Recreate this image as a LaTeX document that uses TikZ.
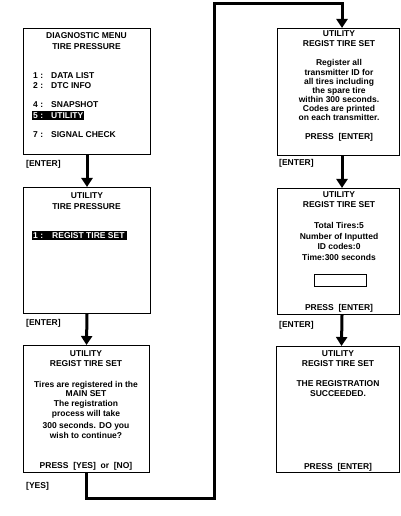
\documentclass[tikz,border=0pt]{standalone}
\usepackage{fontspec}
\setmainfont{Liberation Sans}
\usetikzlibrary{arrows.meta}
\begin{document}
\begin{tikzpicture}[x=1bp,y=-1bp,
  scr/.style={draw,line width=1bp,inner sep=0,anchor=north west},
  ln/.style={inner sep=0,font=\bfseries\fontsize{8.5bp}{10bp}\selectfont,text height=6bp,text depth=0bp},
  lf/.style={ln,anchor=west},
  hl/.style={fill=black,inner sep=0,anchor=west,minimum height=9bp},
  wt/.style={lf,text=white},
  flow/.style={line width=3bp,-{Triangle[width=11bp,length=9bp]}},
  ]
\useasboundingbox (0,0) rectangle (400,516);
% screens
\node[scr,minimum width=127bp,minimum height=126bp] (b1) at (23,28) {};
\node[scr,minimum width=127bp,minimum height=126bp] (b2) at (23,187) {};
\node[scr,minimum width=126bp,minimum height=127bp] (b3) at (23,345) {};
\node[scr,minimum width=122bp,minimum height=127bp] (b4) at (277,28) {};
\node[scr,minimum width=122bp,minimum height=126bp] (b5) at (277,188) {};
\node[scr,minimum width=123bp,minimum height=126bp] (b6) at (276,346) {};
% box 1
\node[ln] (t1a) at (86.5,36) {DIAGNOSTIC MENU};
\node[ln] (t1b) at (86.5,47) {TIRE PRESSURE};
\node[lf] (n1) at (33,76) {1 :};  \node[lf] (m1) at (51,76) {DATA LIST};
\node[lf] (n2) at (33,86) {2 :};  \node[lf] (m2) at (51,86) {DTC INFO};
\node[lf] (n4) at (33,105) {4 :}; \node[lf] (m4) at (51,105) {SNAPSHOT};
\node[hl,minimum width=52bp] (h1) at (32,116) {};
\node[wt] (n5) at (33,116) {5 :}; \node[wt] (m5) at (51,116) {UTILITY};
\node[lf] (n7) at (33,135) {7 :}; \node[lf] (m7) at (51,135) {SIGNAL CHECK};
% box 2
\node[ln] (t2a) at (87,196) {UTILITY};
\node[ln] (t2b) at (86.5,206) {TIRE PRESSURE};
\node[hl,minimum width=95bp] (h2) at (32,235) {};
\node[wt] (n21) at (33,235) {1 :}; \node[wt] (m21) at (52,235) {REGIST TIRE SET};
% box 3
\node[ln] (t3a) at (86,353) {UTILITY};
\node[ln] (t3b) at (86,363) {REGIST TIRE SET};
\node[ln] (t3c) at (86,384) {Tires are registered in the};
\node[ln] (t3d) at (86,393) {MAIN SET};
\node[ln] (t3e) at (86,403) {The registration};
\node[ln] (t3f) at (86,413) {process will take};
\node[ln] (t3g) at (86,425) {300 seconds. DO you};
\node[ln] (t3h) at (86,435) {wish to continue?};
\node[ln] (t3i) at (86,465) {PRESS\ \ [YES]\ \ or\ \ [NO]};
% box 4
\node[ln] (t4a) at (339,34) {UTILITY};
\node[ln] (t4b) at (339,44) {REGIST TIRE SET};
\node[ln] (t4c) at (339,63) {Register all};
\node[ln] (t4d) at (339,73) {transmitter ID for};
\node[ln] (t4e) at (339,82) {all tires including};
\node[ln] (t4f) at (339,91) {the spare tire};
\node[ln] (t4g) at (339,100) {within 300 seconds.};
\node[ln] (t4h) at (339,109) {Codes are printed};
\node[ln] (t4i) at (339,118) {on each transmitter.};
\node[ln] (t4j) at (339,137) {PRESS\ \ [ENTER]};
% box 5
\node[ln] (t5a) at (339,195) {UTILITY};
\node[ln] (t5b) at (339,204) {REGIST TIRE SET};
\node[ln] (t5c) at (339,225) {Total Tires:5};
\node[ln] (t5d) at (339,236) {Number of Inputted};
\node[ln] (t5e) at (339,246) {ID codes:0};
\node[ln] (t5f) at (339,257) {Time:300 seconds};
\node[draw,line width=0.8bp,inner sep=0,minimum width=52bp,minimum height=12bp] (fld) at (340,280) {};
\node[ln] (t5g) at (339,307) {PRESS\ \ [ENTER]};
% box 6
\node[ln] (t6a) at (338,353) {UTILITY};
\node[ln] (t6b) at (338,363) {REGIST TIRE SET};
\node[ln] (t6c) at (338,383) {THE REGISTRATION};
\node[ln] (t6d) at (338,393) {SUCCEEDED.};
\node[ln] (t6e) at (338,466) {PRESS\ \ [ENTER]};
% key labels
\node[lf] (k1) at (26,164) {[ENTER]};
\node[lf] (k2) at (26,322) {[ENTER]};
\node[lf] (k3) at (26,485) {[YES]};
\node[lf] (k4) at (279,163) {[ENTER]};
\node[lf] (k5) at (279,324) {[ENTER]};
% connectors
\coordinate (c1) at (214,498);
\coordinate (c2) at (214,3.5);
\draw[flow] (b1.south) -- (b2.north);
\draw[flow] (b2.south) -- (b3.north);
\draw[flow] (b3.south) |- (c1) -- (c2) -| ([xshift=3.5bp]b4.north);
\draw[flow] ([xshift=3.5bp]b4.south) -- ([xshift=3.5bp]b5.north);
\draw[flow] ([xshift=3.5bp]b5.south) -- ([xshift=3.5bp]b6.north);
\end{tikzpicture}
\end{document}
